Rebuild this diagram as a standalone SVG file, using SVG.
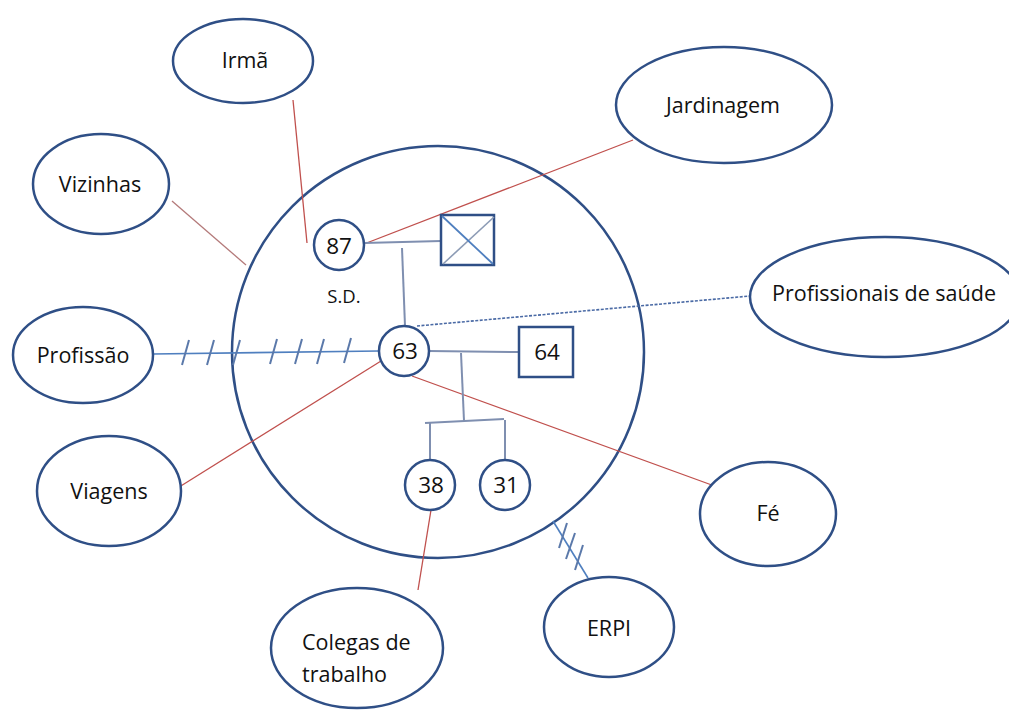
<svg xmlns="http://www.w3.org/2000/svg" width="1009" height="714" viewBox="0 0 1009 714">
  <style>
    .node { fill: #ffffff; stroke: #2f4f86; stroke-width: 2.5; }
    .lbl { font-family: "Open Sans", "Liberation Sans", sans-serif; font-size: 21.5px; fill: #111111; }
    .num { font-size: 22.5px; }
    .mid { text-anchor: middle; }
    .red { stroke: #c0504d; stroke-width: 1.3; fill: none; }
    .rose { stroke: #b47a7a; stroke-width: 1.3; fill: none; }
    .kin { stroke: #7f8fb0; stroke-width: 2; fill: none; }
    .blue { stroke: #4f7fbf; stroke-width: 1.6; fill: none; }
    .hash { stroke: #5b79aa; stroke-width: 2; fill: none; }
  </style>
  <rect width="1009" height="714" fill="#ffffff"/>

  <!-- household circle -->
  <g id="household">
    <circle cx="438" cy="352" r="206" fill="none" stroke="#2f4f86" stroke-width="2.5"/>
  </g>

  <g id="connectors">
    <line class="red" x1="293" y1="100" x2="307" y2="243"/>
    <line class="red" x1="633" y1="140" x2="364" y2="244"/>
    <line class="rose" x1="172" y1="201" x2="246" y2="265"/>
    <line class="red" x1="176" y1="489" x2="381" y2="361"/>
    <line class="red" x1="412" y1="376" x2="720" y2="488"/>
    <line class="red" x1="431" y1="510" x2="418" y2="590"/>
    <!-- family lines -->
    <line class="kin" x1="364" y1="243" x2="441" y2="241"/>
    <line class="kin" x1="402" y1="248" x2="405" y2="326"/>
    <line class="kin" x1="429" y1="351" x2="519" y2="352"/>
    <line class="kin" x1="461" y1="353" x2="464" y2="421"/>
    <line class="kin" x1="425" y1="423" x2="504" y2="419"/>
    <line class="kin" x1="430" y1="423" x2="430" y2="460"/>
    <line class="kin" x1="505" y1="420" x2="505" y2="460"/>
    <!-- health professionals (weak tie) -->
    <line x1="417" y1="326" x2="750" y2="296" stroke="#4a6aa5" stroke-width="1.6" stroke-dasharray="3 1.5"/>
    <!-- work (stressful tie) -->
    <line class="blue" x1="153" y1="354" x2="379" y2="351"/>
    <g class="hash">
      <line x1="189" y1="340" x2="182" y2="365"/>
      <line x1="214" y1="340" x2="207" y2="365"/>
      <line x1="240" y1="340" x2="233" y2="365"/>
      <line x1="277" y1="339" x2="270" y2="364"/>
      <line x1="302" y1="339" x2="295" y2="364"/>
      <line x1="324" y1="339" x2="317" y2="364"/>
      <line x1="351" y1="338" x2="344" y2="363"/>
    </g>
    <!-- ERPI tie -->
    <line class="blue" x1="553" y1="521" x2="588" y2="578"/>
    <g class="hash">
      <line x1="567" y1="523" x2="559" y2="548"/>
      <line x1="575" y1="533" x2="566" y2="559"/>
      <line x1="583" y1="545" x2="575" y2="570"/>
    </g>
  </g>

  <!-- external systems -->
  <g id="irma">
    <ellipse class="node" cx="243" cy="61" rx="70" ry="42"/>
    <text class="lbl mid" x="245" y="68">Irmã</text>
  </g>
  <g id="jardinagem">
    <ellipse class="node" cx="724" cy="105" rx="108" ry="58"/>
    <text class="lbl mid" x="723" y="113">Jardinagem</text>
  </g>
  <g id="vizinhas">
    <ellipse class="node" cx="101" cy="184" rx="68" ry="50"/>
    <text class="lbl mid" x="100" y="192">Vizinhas</text>
  </g>
  <g id="profissionais">
    <ellipse class="node" cx="885" cy="297" rx="135" ry="60"/>
    <text class="lbl mid" x="884" y="301">Profissionais de saúde</text>
  </g>
  <g id="profissao">
    <ellipse class="node" cx="83" cy="355" rx="70" ry="48"/>
    <text class="lbl mid" x="83" y="363">Profissão</text>
  </g>
  <g id="viagens">
    <ellipse class="node" cx="109" cy="491" rx="72" ry="55"/>
    <text class="lbl mid" x="109" y="499">Viagens</text>
  </g>
  <g id="fe">
    <ellipse class="node" cx="768" cy="514" rx="68" ry="52"/>
    <text class="lbl mid" x="768" y="521">Fé</text>
  </g>
  <g id="erpi">
    <ellipse class="node" cx="609" cy="627" rx="65" ry="50"/>
    <text class="lbl mid" x="609" y="636">ERPI</text>
  </g>
  <g id="colegas">
    <ellipse class="node" cx="357" cy="648" rx="86" ry="60"/>
    <text class="lbl" x="302" y="650">Colegas de</text>
    <text class="lbl" x="302" y="682">trabalho</text>
  </g>

  <!-- household members -->
  <g id="p87">
    <circle class="node" cx="339" cy="245" r="25"/>
    <text class="lbl num mid" x="339" y="254">87</text>
  </g>
  <g id="p87-status">
    <text class="lbl mid" x="344" y="303" style="font-size:18.5px">S.D.</text>
  </g>
  <g id="deceased">
    <rect class="node" x="441" y="215" width="53" height="50"/>
    <line x1="494" y1="217" x2="443" y2="264" stroke="#8c9bb5" stroke-width="1.6"/>
    <line x1="442" y1="216" x2="493" y2="264" stroke="#4f7fbf" stroke-width="1.8"/>
  </g>
  <g id="p63">
    <circle class="node" cx="404" cy="351" r="25"/>
    <text class="lbl num mid" x="405" y="359">63</text>
  </g>
  <g id="p64">
    <rect class="node" x="519" y="327" width="54" height="50"/>
    <text class="lbl num mid" x="547" y="360">64</text>
  </g>
  <g id="p38">
    <circle class="node" cx="430" cy="485" r="25"/>
    <text class="lbl num mid" x="431" y="493">38</text>
  </g>
  <g id="p31">
    <circle class="node" cx="505" cy="485" r="25"/>
    <text class="lbl num mid" x="506" y="493">31</text>
  </g>
</svg>
